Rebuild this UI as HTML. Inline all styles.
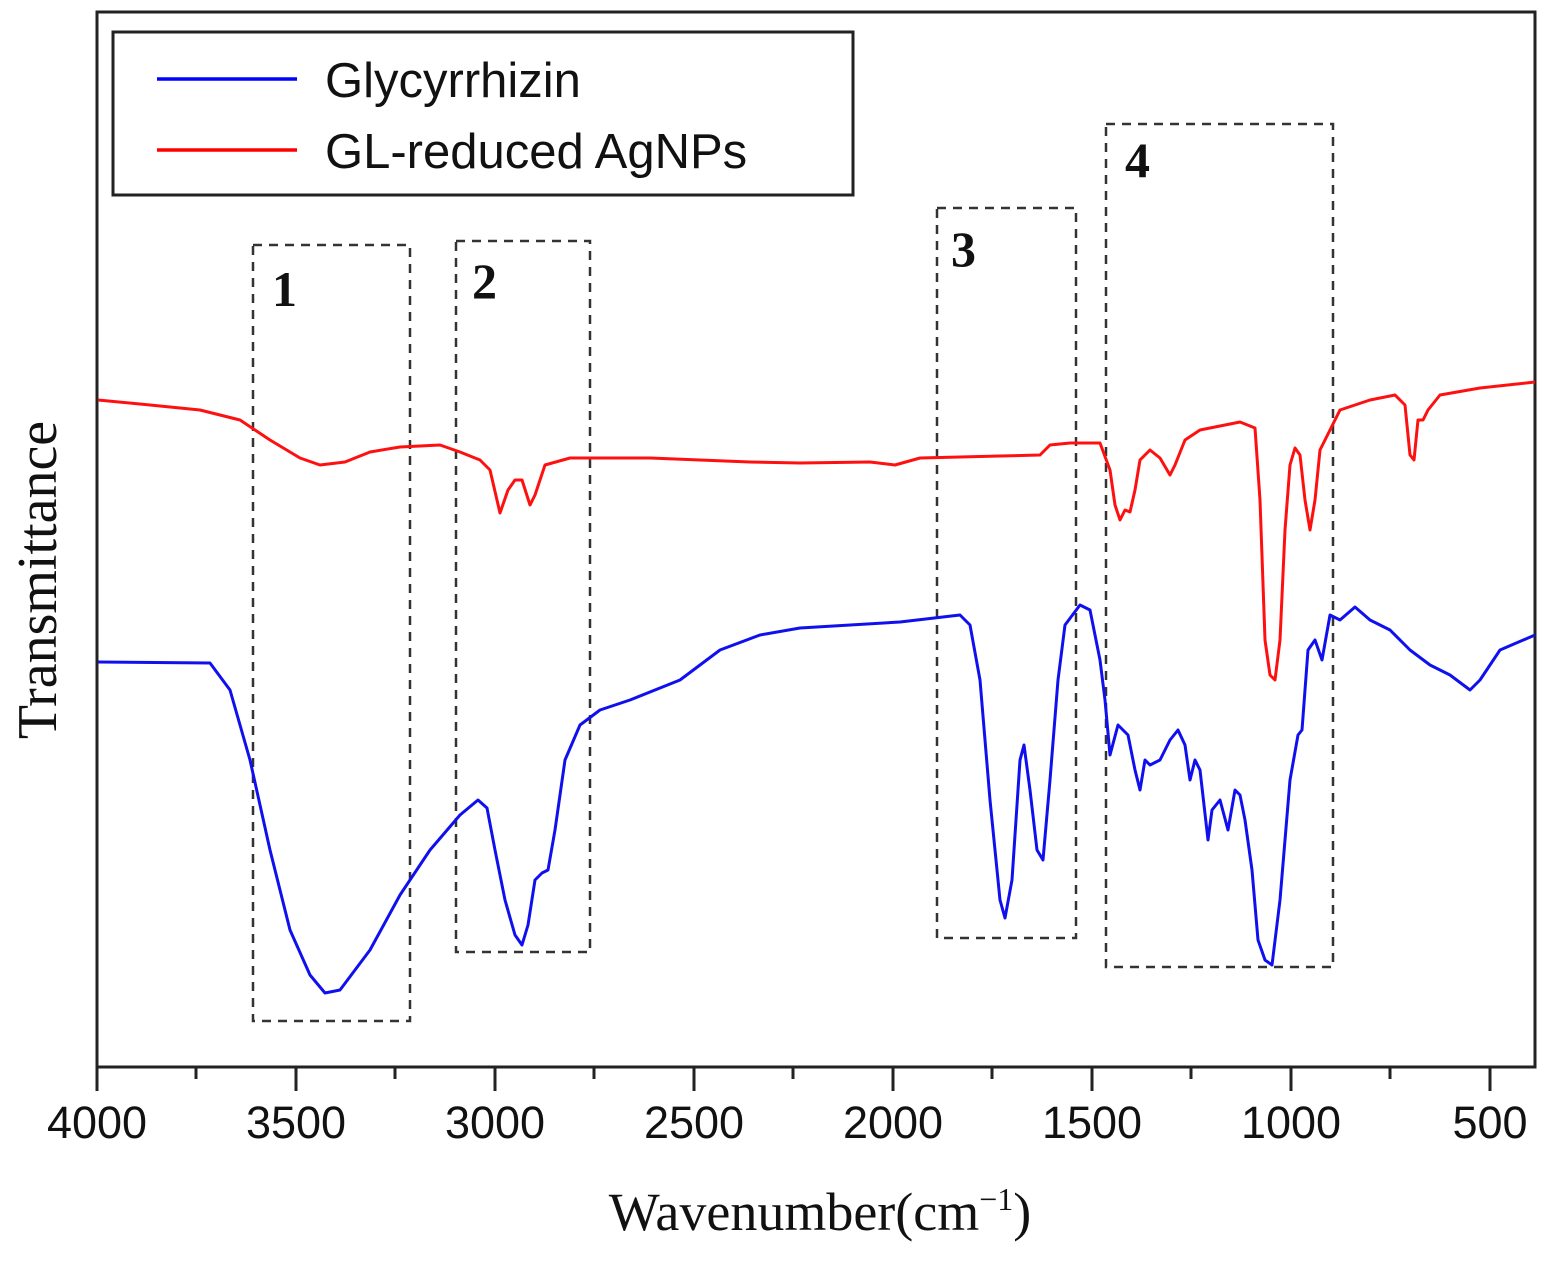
<!DOCTYPE html>
<html><head><meta charset="utf-8"><style>
body{margin:0;background:#fff;}
svg{display:block}
</style></head><body>
<svg width="1560" height="1262" xmlns="http://www.w3.org/2000/svg">
<rect width="1560" height="1262" fill="#fff"/>
<rect x="97" y="12" width="1438" height="1055" fill="none" stroke="#222" stroke-width="3"/>
<g stroke="#222" stroke-width="3">
<line x1="97" y1="1067" x2="97" y2="1091"/><line x1="296" y1="1067" x2="296" y2="1091"/><line x1="495" y1="1067" x2="495" y2="1091"/><line x1="694" y1="1067" x2="694" y2="1091"/><line x1="893" y1="1067" x2="893" y2="1091"/><line x1="1092" y1="1067" x2="1092" y2="1091"/><line x1="1291" y1="1067" x2="1291" y2="1091"/><line x1="1490" y1="1067" x2="1490" y2="1091"/>
<line x1="196" y1="1067" x2="196" y2="1079"/><line x1="395" y1="1067" x2="395" y2="1079"/><line x1="594" y1="1067" x2="594" y2="1079"/><line x1="793" y1="1067" x2="793" y2="1079"/><line x1="992" y1="1067" x2="992" y2="1079"/><line x1="1191" y1="1067" x2="1191" y2="1079"/><line x1="1390" y1="1067" x2="1390" y2="1079"/>
</g>
<g font-family="Liberation Sans, sans-serif" font-size="45" text-anchor="middle" fill="#111">
<text x="97" y="1138">4000</text><text x="296" y="1138">3500</text><text x="495" y="1138">3000</text><text x="694" y="1138">2500</text><text x="893" y="1138">2000</text><text x="1092" y="1138">1500</text><text x="1291" y="1138">1000</text><text x="1490" y="1138">500</text>
</g>
<text x="820" y="1230" font-family="Liberation Serif, serif" font-size="54" text-anchor="middle" fill="#111">Wavenumber(cm<tspan dy="-20" font-size="32">−1</tspan><tspan dy="20">)</tspan></text>
<text transform="translate(56,580) rotate(-90)" font-family="Liberation Serif, serif" font-size="56" text-anchor="middle" fill="#111">Transmittance</text>
<g fill="none" stroke="#333" stroke-width="2.5" stroke-dasharray="9,7">
<rect x="253" y="245" width="157" height="776"/>
<rect x="456" y="241" width="134" height="711"/>
<rect x="937" y="208" width="139" height="730"/>
<rect x="1106" y="124" width="227" height="843"/>
</g>
<g font-family="Liberation Serif, serif" font-weight="bold" font-size="50" fill="#111">
<text x="272" y="306">1</text><text x="472" y="298">2</text><text x="951" y="266">3</text><text x="1125" y="177">4</text>
</g>
<rect x="113" y="32" width="740" height="163" fill="#fff" stroke="#222" stroke-width="3"/>
<line x1="157" y1="79" x2="297" y2="79" stroke="#0000ff" stroke-width="3.5"/>
<line x1="157" y1="150" x2="297" y2="150" stroke="#ff0000" stroke-width="3.5"/>
<g font-family="Liberation Sans, sans-serif" font-size="49" fill="#111">
<text x="325" y="97">Glycyrrhizin</text><text x="325" y="168">GL-reduced AgNPs</text>
</g>
<polyline fill="none" stroke="#1010ee" stroke-width="3" stroke-linejoin="round" points="98,662 210,663 230,690 250,760 270,850 290,930 310,975 325,993 340,990 370,950 400,895 430,850 460,815 478,800 487,808 495,850 505,900 515,935 522,945 528,925 535,880 542,873 548,870 555,830 565,760 580,725 600,710 630,700 680,680 720,650 760,635 800,628 900,622 960,615 970,625 980,680 990,800 1000,900 1005,918 1012,880 1020,760 1024,745 1030,790 1037,850 1043,860 1050,780 1058,680 1065,625 1080,605 1090,610 1100,660 1105,700 1110,755 1118,725 1128,735 1135,770 1140,790 1145,760 1150,765 1160,760 1170,740 1178,730 1185,745 1190,780 1195,760 1200,770 1208,840 1212,810 1220,800 1228,830 1235,790 1240,795 1245,820 1252,870 1258,940 1265,960 1272,965 1280,900 1290,780 1298,735 1302,730 1308,650 1315,640 1322,660 1330,615 1340,620 1355,607 1370,620 1390,630 1410,650 1430,665 1450,675 1470,690 1480,680 1500,650 1535,635"/>
<polyline fill="none" stroke="#ff1010" stroke-width="3" stroke-linejoin="round" points="98,400 150,405 200,410 240,420 270,440 300,458 320,465 345,462 370,452 400,447 440,445 460,452 480,460 490,470 500,513 508,490 515,480 522,480 530,505 535,495 545,465 570,458 650,458 750,462 800,463 870,462 895,465 920,458 1000,456 1040,455 1050,445 1070,443 1100,443 1110,470 1115,505 1120,520 1125,510 1130,512 1135,490 1140,460 1150,450 1160,458 1170,475 1175,465 1185,440 1200,430 1240,422 1255,428 1260,500 1265,640 1270,675 1275,680 1280,640 1285,530 1290,465 1295,448 1300,455 1305,500 1310,530 1315,500 1320,450 1330,430 1340,410 1370,400 1395,395 1405,405 1410,455 1414,460 1418,420 1423,420 1428,410 1440,395 1480,388 1535,382"/>
</svg>
</body></html>
